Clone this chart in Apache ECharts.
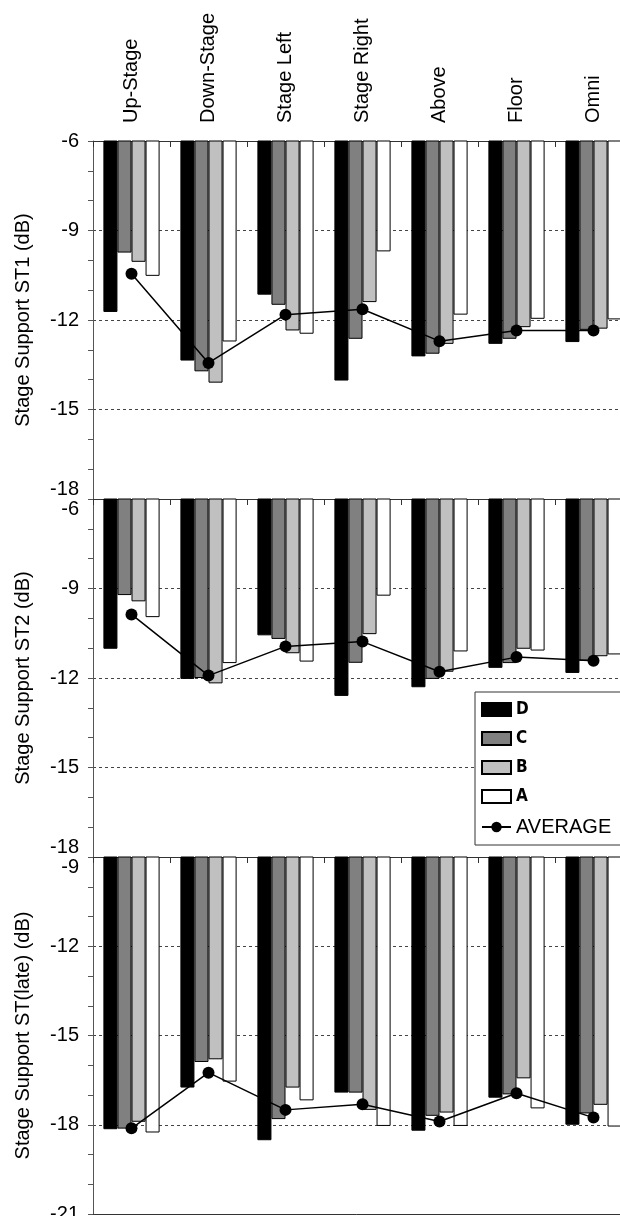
<!DOCTYPE html>
<html>
<head>
<meta charset="utf-8">
<script src="https://cdn.jsdelivr.net/npm/echarts@6/dist/echarts.min.js"></script>
<style>
  html, body { margin: 0; padding: 0; background: #fff; }
  #chart { width: 620px; height: 1216px; }
</style>
</head>
<body>
<div id="chart"></div>
<script>
// categories across the top
const categories = ['Up-Stage', 'Down-Stage', 'Stage Left', 'Stage Right', 'Above', 'Floor', 'Omni'];

// ST1 panel
const st1D = [-11.73, -13.36, -11.15, -14.03, -13.22, -12.8, -12.74];
const st1C = [-9.74, -13.72, -11.49, -12.63, -13.13, -12.63, -12.33];
const st1B = [-10.05, -14.1, -12.35, -11.4, -12.8, -12.24, -12.29];
const st1A = [-10.52, -12.72, -12.46, -9.7, -11.82, -11.96, -11.98];
const st1Avg = [-10.45, -13.44, -11.82, -11.64, -12.71, -12.35, -12.35];

// ST2 panel
const st2D = [-11.02, -12.03, -10.57, -12.6, -12.31, -11.66, -11.83];
const st2C = [-9.22, -12.0, -10.69, -11.49, -12.03, -11.5, -11.42];
const st2B = [-9.43, -12.18, -11.17, -10.53, -11.79, -11.02, -11.27];
const st2A = [-9.96, -11.5, -11.45, -9.24, -11.11, -11.08, -11.21];
const st2Avg = [-9.87, -11.92, -10.94, -10.78, -11.79, -11.3, -11.42];

// ST(late) panel
const stLateD = [-18.15, -16.75, -18.52, -16.92, -18.2, -17.09, -18.0];
const stLateC = [-18.13, -15.89, -17.81, -16.92, -17.7, -16.98, -17.62];
const stLateB = [-17.9, -15.8, -16.75, -17.5, -17.59, -16.44, -17.33];
const stLateA = [-18.26, -16.55, -17.18, -18.04, -18.04, -17.45, -18.06];
const stLateAvg = [-18.12, -16.25, -17.5, -17.31, -17.89, -16.94, -17.76];

const panelNames = ['Stage Support ST1 (dB)', 'Stage Support ST2 (dB)', 'Stage Support ST(late) (dB)'];
const panelRanges = [[-18, -6], [-18, -6], [-21, -9]];

const font = "'Liberation Sans', Arial, sans-serif";
const barColors = { D: '#000000', C: '#808080', B: '#c0c0c0', A: '#ffffff' };

let chartDom = document.getElementById('chart');
let myChart = echarts.init(chartDom);

let panelData = [
  { D: st1D, C: st1C, B: st1B, A: st1A, avg: st1Avg },
  { D: st2D, C: st2C, B: st2B, A: st2A, avg: st2Avg },
  { D: stLateD, C: stLateC, B: stLateB, A: stLateA, avg: stLateAvg }
];

let grids = [], xAxes = [], yAxes = [], series = [];
const tops = [141, 499, 857];
const heights = [358, 358, 357];

for (let i = 0; i < 3; i++) {
  grids.push({ left: 93, right: -12, top: tops[i], height: heights[i], outerBoundsMode: 'none', containLabel: false });
  xAxes.push({
    type: 'category',
    gridIndex: i,
    position: 'top',
    data: categories,
    axisLine: { show: true, lineStyle: { color: '#333', width: 1 } },
    axisTick: { show: true, inside: true, length: 6, lineStyle: { color: '#333' } },
    axisLabel: {
      show: i === 0,
      rotate: -90,
      margin: 18,
      color: '#000',
      fontSize: 20,
      fontFamily: font
    },
    splitLine: { show: false }
  });
  yAxes.push({
    type: 'value',
    gridIndex: i,
    min: panelRanges[i][0],
    max: panelRanges[i][1],
    interval: 3,
    name: panelNames[i],
    nameLocation: 'middle',
    nameRotate: 90,
    nameGap: 60,
    nameTextStyle: { color: '#000', fontSize: 20, fontFamily: font },
    axisLine: { show: true, lineStyle: { color: '#555', width: 1 } },
    axisTick: { show: true, length: 5, lineStyle: { color: '#555' } },
    minorTick: { show: true, splitNumber: 3, length: 5, lineStyle: { color: '#555' } },
    axisLabel: {
      margin: 14,
      color: '#000',
      fontSize: 20,
      fontFamily: font,
      verticalAlignMinLabel: i < 2 ? 'bottom' : 'middle',
      verticalAlignMaxLabel: i > 0 ? 'top' : 'middle'
    },
    splitLine: { show: true, lineStyle: { color: '#444', type: [3, 3], width: 1 } }
  });

  ['D', 'C', 'B', 'A'].forEach(k => {
    series.push({
      name: k,
      type: 'bar',
      xAxisIndex: i,
      yAxisIndex: i,
      barGap: '0%',
      barCategoryGap: '27%',
      itemStyle: { color: barColors[k], borderColor: '#000', borderWidth: 1 },
      data: panelData[i][k]
    });
  });
  series.push({
    name: 'AVERAGE',
    type: 'line',
    xAxisIndex: i,
    yAxisIndex: i,
    z: 5,
    symbol: 'circle',
    symbolSize: 12,
    itemStyle: { color: '#000' },
    lineStyle: { color: '#000', width: 1.5 },
    data: panelData[i].avg
  });
}

// solid frame line under the last panel
xAxes.push({
  type: 'category',
  gridIndex: 2,
  position: 'bottom',
  data: categories,
  axisLine: { show: true, onZero: false, lineStyle: { color: '#333', width: 1 } },
  axisTick: { show: false },
  axisLabel: { show: false },
  splitLine: { show: false }
});

let legendText = { color: '#000', fontSize: 17, fontWeight: 'bold', fontFamily: "'Liberation Sans Narrow', 'DejaVu Sans Condensed', sans-serif" };

let option = {
  animation: false,
  backgroundColor: '#fff',
  grid: grids,
  xAxis: xAxes,
  yAxis: yAxes,
  legend: {
    left: 475,
    top: 692,
    orient: 'vertical',
    itemWidth: 29,
    itemHeight: 13,
    itemGap: 12,
    padding: [9, 20, 8, 6],
    borderColor: '#333',
    borderWidth: 1,
    backgroundColor: '#fff',
    textStyle: legendText,
    data: [
      { name: 'D', icon: 'rect' },
      { name: 'C', icon: 'rect' },
      { name: 'B', icon: 'rect' },
      { name: 'A', icon: 'rect' },
      { name: 'AVERAGE', textStyle: { fontSize: 20, fontWeight: 'normal', fontFamily: font } }
    ]
  },
  series: series
};

myChart.setOption(option);
</script>
</body>
</html>
